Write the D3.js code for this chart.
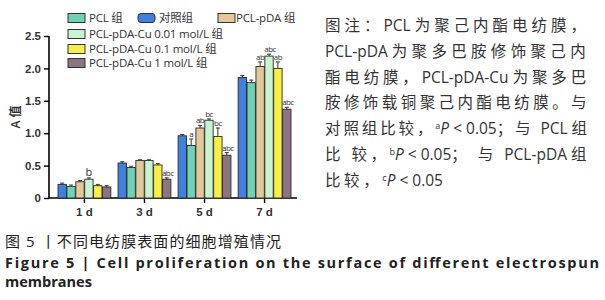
<!DOCTYPE html>
<html>
<head>
<meta charset="utf-8">
<script src="https://cdn.jsdelivr.net/npm/d3@7"></script>
<style>
  body { margin: 0; background: #fff; }
  svg { display: block; font-family: "Open Sans", "Noto Sans CJK SC", sans-serif; }
</style>
</head>
<body>
<div id="container"></div>
<script>
/* DATA */
const days = ["1 d", "3 d", "5 d", "7 d"];
const groups = ["对照组", "PCL 组", "PCL-pDA 组", "PCL-pDA-Cu 0.01 mol/L 组", "PCL-pDA-Cu 0.1 mol/L 组", "PCL-pDA-Cu 1 mol/L 组"];
const colors = ["#3f80e0", "#6fd2b4", "#e2c89a", "#caf3cf", "#f6ef45", "#8c7484"];
// one array per group, values for 1d,3d,5d,7d
const control   = [0.21, 0.54, 0.96, 1.86];
const pcl       = [0.18, 0.47, 0.81, 1.78];
const pda       = [0.25, 0.58, 1.08, 2.03];
const cu001     = [0.29, 0.58, 1.20, 2.19];
const cu01      = [0.19, 0.51, 0.95, 2.00];
const cu1       = [0.17, 0.29, 0.66, 1.37];
const errControl = [0.02, 0.02, 0.02, 0.03];
const errPcl     = [0.02, 0.02, 0.10, 0.04];
const errPda     = [0.02, 0.01, 0.04, 0.07];
const errCu001   = [0.02, 0.01, 0.02, 0.03];
const errCu01    = [0.02, 0.02, 0.13, 0.10];
const errCu1     = [0.02, 0.02, 0.04, 0.03];
// significance letters
const sigControl = ["", "", "", ""];
const sigPcl     = ["", "", "a", ""];
const sigPda     = ["", "", "ab", "ab"];
const sigCu001   = ["b", "", "bc", "abc"];
const sigCu01    = ["", "", "bc", "ab"];
const sigCu1     = ["", "abc", "abc", "abc"];
const yTicks = [0, 0.5, 1.0, 1.5, 2.0, 2.5];
const legendOrder = [1, 0, 2, 3, 4, 5];

// note lines: segments [text, type]  (type: "c" cjk, "l" latin, "sup", "it")
const noteLines = [
  [["图注：", "c"], ["PCL ", "l"], ["为聚己内酯电纺膜，", "c"]],
  [["PCL-pDA ", "l"], ["为聚多巴胺修饰聚己内", "c"]],
  [["酯电纺膜，", "c"], ["PCL-pDA-Cu ", "l"], ["为聚多巴", "c"]],
  [["胺修饰载铜聚己内酯电纺膜。与", "c"]],
  [["对照组比较，", "c"], ["a", "sup"], ["P", "it"], [" < 0.05", "l"], ["；与 ", "c"], ["PCL ", "l"], ["组", "c"]],
  [["比 较，", "c"], ["b", "sup"], ["P", "it"], [" < 0.05", "l"], ["； 与 ", "c"], ["PCL-pDA ", "l"], ["组", "c"]],
  [["比较，", "c"], ["c", "sup"], ["P", "it"], [" < 0.05", "l"]]
];

const values = [control, pcl, pda, cu001, cu01, cu1];
const errs = [errControl, errPcl, errPda, errCu001, errCu01, errCu1];
const sigs = [sigControl, sigPcl, sigPda, sigCu001, sigCu01, sigCu1];

const width = 605, height = 300;
const svg = d3.select("#container").append("svg")
  .attr("width", width).attr("height", height);

/* SCALES */
const yScale = d3.scaleLinear().domain([0, 2.5]).range([198, 36]);
const xScale = d3.scaleBand().domain(days).range([52, 297])
  .paddingInner(0.12).paddingOuter(0.1);
const xInner = d3.scaleBand().domain(d3.range(groups.length))
  .range([0, xScale.bandwidth()]).paddingInner(0.06);

/* AXES */
const yAxis = d3.axisLeft(yScale).tickValues(yTicks).tickSize(5)
  .tickFormat(d => d === 0 ? "0" : d3.format(".1f")(d));
svg.append("g")
  .attr("transform", "translate(49,0)")
  .call(yAxis)
  .call(g => g.select(".domain").attr("d", "M0,36V198").attr("stroke-width", 1.6))
  .call(g => g.selectAll("line").attr("stroke-width", 1.4))
  .selectAll("text").attr("font-size", 11.5).attr("font-weight", 600).attr("fill", "#333");

const xAxis = d3.axisBottom(xScale).tickSize(5).tickSizeOuter(0);
svg.append("g")
  .attr("transform", "translate(0,198)")
  .call(xAxis)
  .call(g => g.select(".domain").attr("d", "M49,0H297").attr("stroke-width", 1.6))
  .call(g => g.selectAll("line").attr("stroke-width", 1.4))
  .selectAll("text").attr("font-size", 11.5).attr("font-weight", 600).attr("fill", "#333").attr("dy", "0.9em");

svg.append("text")
  .attr("transform", "translate(20,117) rotate(-90)")
  .attr("text-anchor", "middle")
  .attr("font-size", 12).attr("font-weight", 600).attr("fill", "#333")
  .text("A 值");

/* BARS */
const barData = [];
values.forEach((arr, gi) => arr.forEach((v, di) => barData.push({
  g: gi, day: days[di], v: v, e: errs[gi][di], s: sigs[gi][di]
})));

const bx = d => xScale(d.day) + xInner(d.g);
const bw = xInner.bandwidth();

svg.selectAll(".err")
  .data(barData)
  .join("path")
  .attr("class", "err")
  .attr("d", d => {
    const cx = bx(d) + bw / 2, y1 = yScale(d.v + d.e);
    return `M${cx},${yScale(d.v)}V${y1}M${cx - 2},${y1}H${cx + 2}`;
  })
  .attr("stroke", "#333").attr("stroke-width", 1).attr("fill", "none");

svg.selectAll(".bar")
  .data(barData)
  .join("rect")
  .attr("class", "bar")
  .attr("x", bx)
  .attr("y", d => yScale(d.v))
  .attr("width", bw)
  .attr("height", d => yScale(0) - yScale(d.v))
  .attr("fill", d => colors[d.g])
  .attr("stroke", "#2a2a2a").attr("stroke-width", 0.9);

const bigSig = d => d.s === "b" && d.day === "1 d";
svg.selectAll(".sig")
  .data(barData.filter(d => d.s))
  .join("text")
  .attr("class", "sig")
  .attr("x", d => bx(d) + bw / 2 + (d.s.length === 3 ? 1 : 0))
  .attr("y", d => yScale(d.v + d.e) - 2)
  .attr("text-anchor", "middle")
  .attr("font-size", d => bigSig(d) ? 11 : 8)
  .attr("letter-spacing", d => bigSig(d) ? 0 : -0.6)
  .attr("fill", "#333")
  .text(d => d.s);

/* LEGEND */
const legendPos = [
  [68, 18], [138, 18], [218, 18], [68, 34], [68, 49], [68, 63]
];
const leg = svg.selectAll(".leg")
  .data(legendOrder)
  .join("g")
  .attr("class", "leg")
  .attr("transform", (d, i) => `translate(${legendPos[i][0]},${legendPos[i][1]})`);
leg.append("rect")
  .attr("x", 0).attr("y", -4.5).attr("width", 17).attr("height", 9)
  .attr("rx", d => d === 0 ? 3 : 0)
  .attr("fill", d => colors[d]).attr("stroke", "#333").attr("stroke-width", 1);
leg.append("text")
  .attr("x", (d, i) => i === 2 ? 18 : 21).attr("y", 0).attr("dy", "0.35em")
  .attr("font-size", 11.5).attr("fill", "#333").attr("letter-spacing", -0.2)
  .text(d => groups[d]);

/* NOTE */
const note = svg.append("g").attr("fill", "#333").attr("font-size", 15.5);
noteLines.forEach((segs, i) => {
  const t = note.append("text").attr("x", 325).attr("y", 31 + i * 25.8);
  segs.forEach(([s, type]) => {
    const ts = t.append("tspan").attr("class", type).text(s);
    if (type === "sup") ts.attr("font-size", 9).attr("dy", -5);
    if (type === "it") ts.attr("font-style", "italic").attr("dy", 5);
  });
  if (i < noteLines.length - 1) {
    // stretch CJK characters so each line fills the column
    const natural = t.node().getComputedTextLength();
    const nCjk = segs.filter(s => s[1] === "c").reduce((a, s) => a + s[0].length, 0);
    const ls = (265 - natural) / nCjk;
    t.selectAll("tspan.c").attr("letter-spacing", ls);
  } else {
    t.selectAll("tspan.c").attr("letter-spacing", 3.6);
  }
});

/* CAPTION */
svg.append("text").attr("x", 5).attr("y", 247)
  .attr("font-size", 15).attr("fill", "#222")
  .text("图 5 丨不同电纺膜表面的细胞增殖情况")
  .attr("textLength", 276).attr("lengthAdjust", "spacing");
svg.append("text").attr("x", 5).attr("y", 268)
  .attr("font-size", 14.5).attr("font-weight", 700).attr("fill", "#222")
  .attr("textLength", 594).attr("lengthAdjust", "spacing")
  .text("Figure 5  |  Cell proliferation on the surface of different electrospun");
svg.append("text").attr("x", 5).attr("y", 287)
  .attr("font-size", 14.5).attr("font-weight", 700).attr("fill", "#222")
  .text("membranes");
</script>
</body>
</html>
